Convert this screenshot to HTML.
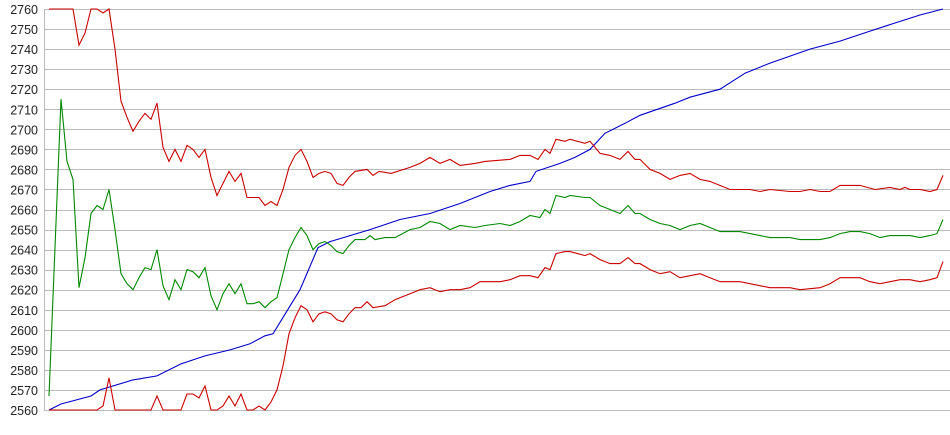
<!DOCTYPE html><html><head><style>body{margin:0;background:#fff}svg{display:block}text{font-family:"Liberation Sans",sans-serif;font-size:12.5px;fill:#222}</style></head><body>
<svg id="s" width="950" height="435" xmlns="http://www.w3.org/2000/svg"></svg>
<script>
var s=document.getElementById('s'),h='';
function Y(v){return 410-(v-2560)*2.005;}
for(var v=2560;v<=2760;v+=10){var y=Math.round(Y(v))+0.5;h+='<line x1="44" x2="950" y1="'+y+'" y2="'+y+'" stroke="#bbbbbb" stroke-width="1" shape-rendering="crispEdges"/>';h+='<text x="38" y="'+(Y(v)+5)+'" text-anchor="end">'+v+'</text>';}
h+='<line x1="44.5" x2="44.5" y1="9" y2="410" stroke="#bbbbbb" shape-rendering="crispEdges"/>';
function P(a,c){var p=[];for(var i=0;i<a.length;i+=2)p.push(a[i]+','+Y(a[i+1]).toFixed(1));h+='<polyline fill="none" stroke="'+c+'" stroke-width="1.1" points="'+p.join(' ')+'"/>';}
P([49,2560,61,2563,91,2567,100,2570,133,2575,157,2577,181,2583,205,2587,230,2590,250,2593,265,2597,273,2598,300,2620,318,2641,330,2644,350,2647,370,2650,400,2655,430,2658,460,2663,490,2669,510,2672,530,2674,536,2679,560,2683,575,2686,590,2690,605,2698,625,2703,640,2707,675,2713,690,2716,720,2720,745,2728,770,2733,810,2740,840,2744,870,2749,895,2753,920,2757,943,2760],'#0000cc');
P([49,2760,73,2760,79,2742,85,2748,91,2760,97,2760,103,2758,109,2760,115,2740,121,2714,127,2706,133,2699,139,2704,145,2708,151,2705,157,2713,163,2691,169,2684,175,2690,181,2684,187,2692,193,2690,199,2686,205,2690,211,2676,217,2667,223,2673,229,2679,235,2674,241,2678,247,2666,259,2666,265,2662,271,2664,277,2662,283,2670,289,2681,295,2687,301,2690,307,2684,313,2676,319,2678,325,2679,331,2678,337,2673,343,2672,349,2676,355,2679,367,2680,373,2677,379,2679,391,2678,410,2681,420,2683,430,2686,440,2683,450,2685,460,2682,475,2683,485,2684,510,2685,520,2687,530,2687,538,2685,545,2690,550,2688,556,2695,565,2694,570,2695,585,2693,590,2694,600,2688,610,2687,620,2685,628,2689,635,2685,640,2685,650,2680,660,2678,670,2675,680,2677,690,2678,700,2675,710,2674,730,2670,750,2670,760,2669,770,2670,790,2669,800,2669,810,2670,820,2669,830,2669,840,2672,850,2672,860,2672,875,2670,890,2671,900,2670,905,2671,910,2670,920,2670,930,2669,937,2670,943,2677],'#cc0000');
P([49,2567,61,2715,67,2684,73,2675,79,2621,85,2636,91,2658,97,2662,103,2660,109,2670,115,2650,121,2628,127,2623,133,2620,139,2626,145,2631,151,2630,157,2640,163,2622,169,2615,175,2625,181,2620,187,2630,193,2629,199,2626,205,2631,211,2617,217,2610,223,2618,229,2623,235,2618,241,2623,247,2613,253,2613,259,2614,265,2611,271,2614,277,2616,283,2628,289,2640,295,2646,301,2651,307,2647,313,2640,319,2643,325,2644,331,2642,337,2639,343,2638,349,2642,355,2645,365,2645,370,2647,375,2645,385,2646,395,2646,410,2650,420,2651,430,2654,440,2653,450,2650,460,2652,475,2651,485,2652,500,2653,510,2652,520,2654,530,2657,540,2656,545,2660,550,2658,556,2667,565,2666,570,2667,585,2666,590,2666,600,2662,610,2660,620,2658,628,2662,635,2658,640,2658,650,2655,660,2653,670,2652,680,2650,690,2652,700,2653,710,2651,720,2649,740,2649,760,2647,770,2646,790,2646,800,2645,820,2645,830,2646,840,2648,850,2649,860,2649,870,2648,880,2646,890,2647,900,2647,910,2647,920,2646,930,2647,937,2648,943,2655],'#008800');
P([49,2560,97,2560,103,2562,109,2576,115,2560,151,2560,157,2567,163,2560,181,2560,187,2568,193,2568,199,2566,205,2572,211,2560,217,2560,223,2562,229,2567,235,2562,241,2568,247,2560,253,2560,259,2562,265,2560,271,2564,277,2570,283,2582,289,2598,295,2606,301,2612,307,2610,313,2604,319,2608,325,2609,331,2608,337,2605,343,2604,349,2608,355,2611,361,2611,367,2614,373,2611,385,2612,395,2615,410,2618,420,2620,430,2621,440,2619,450,2620,460,2620,470,2621,480,2624,500,2624,510,2625,520,2627,530,2627,538,2626,545,2631,550,2630,556,2638,565,2639,570,2639,585,2637,590,2638,600,2635,610,2633,620,2633,628,2636,635,2633,640,2633,650,2630,660,2628,670,2629,680,2626,690,2627,700,2628,710,2626,720,2624,740,2624,760,2622,770,2621,790,2621,800,2620,820,2621,830,2623,840,2626,850,2626,860,2626,870,2624,880,2623,890,2624,900,2625,910,2625,920,2624,930,2625,937,2626,943,2634],'#cc0000');
s.innerHTML=h;
</script></body></html>
